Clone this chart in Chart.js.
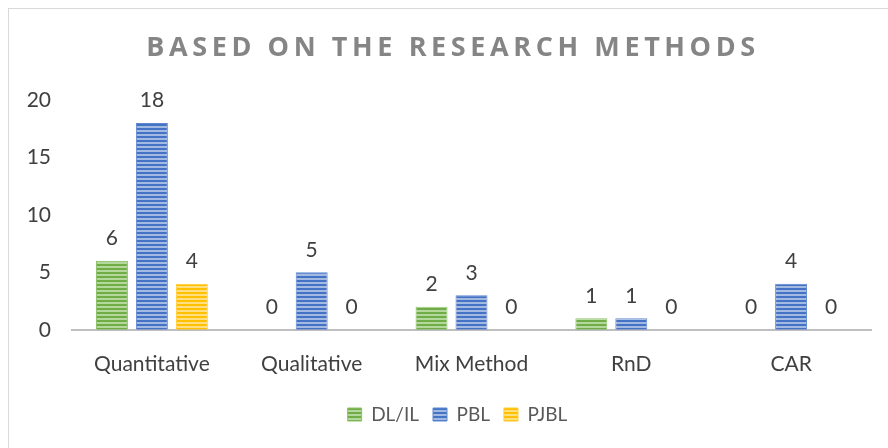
<!DOCTYPE html>
<html>
<head>
<meta charset="utf-8">
<script src="https://cdn.jsdelivr.net/npm/chart.js@4.4.1/dist/chart.umd.min.js"></script>
<style>
  html, body { margin: 0; padding: 0; background: #fff; overflow: hidden; }
  #wrap { position: relative; width: 888px; height: 448px; }
  #frame { position: absolute; left: 8px; top: 8px; width: 900px; height: 460px; border: 1.5px solid #d9d9d9; box-sizing: border-box; }
  canvas { position: absolute; left: 0; top: 0; }
</style>
</head>
<body>
<div id="wrap">
  <div id="frame"></div>
  <canvas id="myChart" width="888" height="448"></canvas>
</div>
<script>
const categories = ['Quantitative', 'Qualitative', 'Mix Method', 'RnD', 'CAR']
const dlilValues = [6, 0, 2, 1, 0]
const pblValues = [18, 5, 3, 1, 4]
const pjblValues = [4, 0, 0, 0, 0]
const seriesNames = ['DL/IL', 'PBL', 'PJBL']
const yTicks = [0, 5, 10, 15, 20]
const chartTitle = 'BASED ON THE RESEARCH METHODS'

// horizontal stripe fill like the office "narrow horizontal" pattern
function stripes(dark, light) {
    const c = document.createElement('canvas')
    c.width = 4
    c.height = 4
    const g = c.getContext('2d')
    g.fillStyle = light
    g.fillRect(0, 0, 4, 4)
    g.fillStyle = dark
    g.fillRect(0, 0, 4, 2)
    return g.createPattern(c, 'repeat')
}

const ctx = document.getElementById('myChart').getContext('2d')

const valueLabels = {
    id: 'valueLabels',
    afterDatasetsDraw(chart) {
        const c = chart.ctx
        c.save()
        c.font = '21px Lato'
        c.fillStyle = '#404040'
        c.textAlign = 'center'
        c.textBaseline = 'bottom'
        chart.data.datasets.forEach((ds, i) => {
            chart.getDatasetMeta(i).data.forEach((bar, j) => {
                c.fillText(ds.data[j], bar.x, bar.y - 12)
            })
        })
        c.restore()
    }
}

const titlePlugin = {
    id: 'spacedTitle',
    afterDraw(chart) {
        const c = chart.ctx
        c.save()
        c.font = 'bold 27px "Open Sans"'
        c.letterSpacing = '4.6px'
        c.fillStyle = '#858585'
        c.textAlign = 'center'
        c.textBaseline = 'middle'
        c.fillText(chartTitle, 453, 48)
        c.restore()
    }
}

new Chart(ctx, {
    type: 'bar',
    data: {
        labels: categories,
        datasets: [{
            label: seriesNames[0],
            data: dlilValues,
            backgroundColor: stripes('#70ad47', '#b4d79c'),
            borderColor: '#8cc168',
            borderWidth: 1
        }, {
            label: seriesNames[1],
            data: pblValues,
            backgroundColor: stripes('#4472c4', '#a2b9e2'),
            borderColor: '#5f88d0',
            borderWidth: 1
        }, {
            label: seriesNames[2],
            data: pjblValues,
            backgroundColor: stripes('#ffc000', '#ffdf80'),
            borderColor: '#ffcb33',
            borderWidth: 1
        }]
    },
    options: {
        responsive: false,
        animation: false,
        categoryPercentage: 0.75,
        barPercentage: 0.8,
        layout: { padding: { left: 27, right: 0, top: 100, bottom: 14 } },
        plugins: {
            title: { display: false },
            tooltip: { enabled: false },
            legend: {
                position: 'bottom',
                labels: {
                    font: { family: 'Lato', size: 19 },
                    color: '#595959',
                    boxWidth: 14,
                    boxHeight: 13,
                    padding: 14
                }
            }
        },
        scales: {
            x: {
                afterFit(axis) { axis.paddingLeft = 0; axis.paddingRight = 17 },
                grid: { display: false },
                border: { display: true, color: '#bfbfbf', width: 2 },
                ticks: { font: { family: 'Lato', size: 21 }, color: '#404040', padding: 14 }
            },
            y: {
                min: 0,
                max: 20,
                afterBuildTicks(axis) { axis.ticks = yTicks.map(v => ({ value: v })) },
                afterFit(axis) { axis.width = 45 },
                grid: { display: false, drawTicks: false },
                border: { display: false },
                ticks: { font: { family: 'Lato', size: 21 }, color: '#404040', padding: 21 }
            }
        }
    },
    plugins: [valueLabels, titlePlugin]
});
</script>
</body>
</html>
